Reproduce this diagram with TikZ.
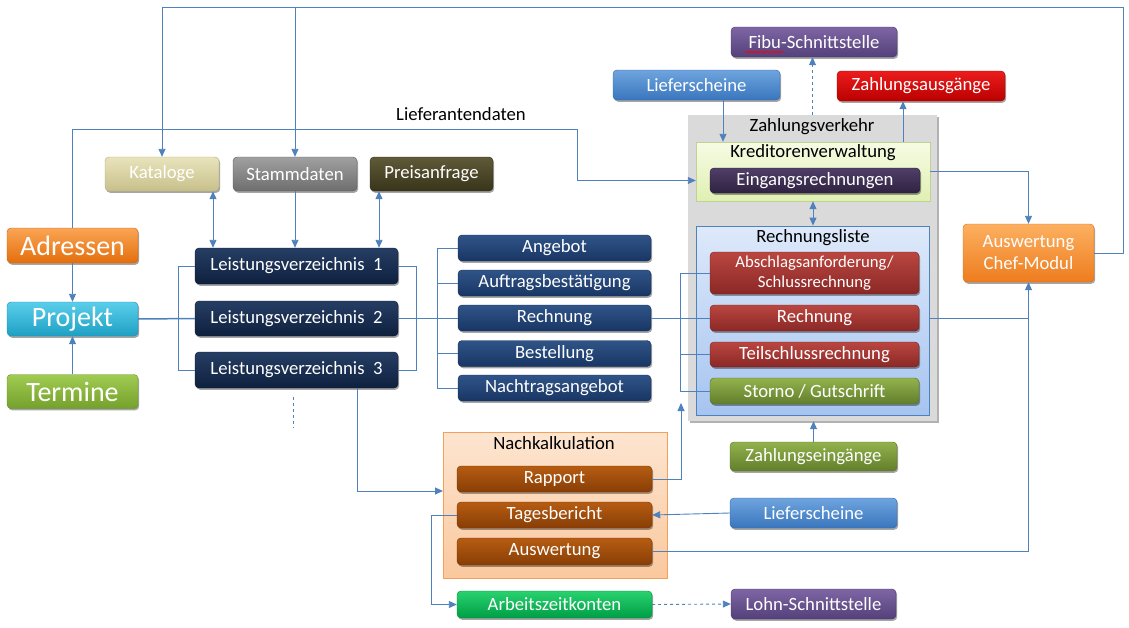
\documentclass[tikz,border=0pt]{standalone}
\usepackage{fontspec}
\setmainfont{Carlito}
\usetikzlibrary{arrows.meta,shadows,shadings,decorations.pathmorphing}
\definecolor{ln}{RGB}{79,129,189}
\newcommand\FsN{\fontsize{18.7pt}{21pt}\selectfont}
\newcommand\FsB{\fontsize{28pt}{30pt}\selectfont}
\newcommand\FsS{\fontsize{16.7pt}{20pt}\selectfont}
\tikzset{
  box/.style={rounded corners=4pt, inner sep=0pt, text=white, font=\FsN, line width=0.4pt,
    drop shadow={shadow xshift=1.2pt,shadow yshift=-1.8pt,opacity=.35,fill=black}},
  cKat/.style={top color={rgb,255:red,232;green,227;blue,188}, bottom color={rgb,255:red,200;green,192;blue,138}, draw={rgb,255:red,178;green,170;blue,115}},
  cStm/.style={top color={rgb,255:red,160;green,160;blue,160}, bottom color={rgb,255:red,110;green,110;blue,110}, draw={rgb,255:red,90;green,90;blue,90}},
  cPre/.style={top color={rgb,255:red,96;green,90;blue,56}, bottom color={rgb,255:red,56;green,52;blue,26}, draw={rgb,255:red,45;green,42;blue,20}},
  cAdr/.style={top color={rgb,255:red,250;green,165;blue,85}, bottom color={rgb,255:red,228;green,110;blue,12}, draw={rgb,255:red,200;green,95;blue,10}},
  cPrj/.style={top color={rgb,255:red,90;green,206;blue,234}, bottom color={rgb,255:red,30;green,160;blue,196}, draw={rgb,255:red,25;green,140;blue,170}},
  cTer/.style={top color={rgb,255:red,160;green,204;blue,82}, bottom color={rgb,255:red,116;green,160;blue,44}, draw={rgb,255:red,100;green,140;blue,38}},
  cLV/.style={top color={rgb,255:red,38;green,62;blue,100}, bottom color={rgb,255:red,14;green,32;blue,62}, draw={rgb,255:red,10;green,24;blue,48}},
  cBlu/.style={top color={rgb,255:red,48;green,84;blue,136}, bottom color={rgb,255:red,24;green,54;blue,100}, draw={rgb,255:red,18;green,42;blue,80}},
  cRed/.style={top color={rgb,255:red,186;green,70;blue,64}, bottom color={rgb,255:red,138;green,40;blue,38}, draw={rgb,255:red,115;green,32;blue,30}},
  cGrn/.style={top color={rgb,255:red,146;green,178;blue,76}, bottom color={rgb,255:red,98;green,126;blue,44}, draw={rgb,255:red,85;green,110;blue,38}},
  cLs/.style={top color={rgb,255:red,110;green,164;blue,222}, bottom color={rgb,255:red,58;green,118;blue,190}, draw={rgb,255:red,50;green,100;blue,165}},
  cZa/.style={top color={rgb,255:red,236;green,28;blue,28}, bottom color={rgb,255:red,186;green,0;blue,0}, draw={rgb,255:red,160;green,0;blue,0}},
  cPur/.style={top color={rgb,255:red,126;green,102;blue,164}, bottom color={rgb,255:red,84;green,64;blue,122}, draw={rgb,255:red,70;green,52;blue,105}},
  cEin/.style={top color={rgb,255:red,80;green,62;blue,104}, bottom color={rgb,255:red,46;green,34;blue,64}, draw={rgb,255:red,36;green,26;blue,52}},
  cChef/.style={top color={rgb,255:red,252;green,176;blue,96}, bottom color={rgb,255:red,238;green,124;blue,30}, draw={rgb,255:red,215;green,110;blue,25}},
  cBrn/.style={top color={rgb,255:red,182;green,92;blue,18}, bottom color={rgb,255:red,136;green,62;blue,6}, draw={rgb,255:red,115;green,52;blue,5}},
  cAzk/.style={top color={rgb,255:red,40;green,210;blue,110}, bottom color={rgb,255:red,0;green,158;blue,70}, draw={rgb,255:red,0;green,135;blue,60}},
  zvbox/.style={inner sep=0pt, fill={rgb,255:red,218;green,218;blue,218},
    drop shadow={shadow xshift=1.5pt,shadow yshift=-2pt,opacity=.3,fill=black}},
  kvbox/.style={inner sep=0pt, top color={rgb,255:red,246;green,251;blue,228}, bottom color={rgb,255:red,224;green,240;blue,178}, draw={rgb,255:red,190;green,210;blue,150}},
  rlbox/.style={inner sep=0pt, top color={rgb,255:red,222;green,233;blue,250}, bottom color={rgb,255:red,166;green,196;blue,240}, draw=ln, line width=0.8pt},
  nkbox/.style={inner sep=0pt, top color={rgb,255:red,253;green,229;blue,208}, bottom color={rgb,255:red,250;green,200;blue,158}, draw={rgb,255:red,244;green,160;blue,90}},
  lbl/.style={inner sep=0pt, text=black, font=\FsN},
  conn/.style={draw=ln, line width=0.9pt},
  tip/.style={-{Triangle[length=8pt,width=7pt]}},
  tips/.style={{Triangle[length=8pt,width=7pt]}-{Triangle[length=8pt,width=7pt]}},
}
\begin{document}
\begin{tikzpicture}[x=1pt,y=-1pt]
\useasboundingbox (0,0) rectangle (1129,627);

% containers
\node[zvbox,minimum width=249,minimum height=306] (zv) at (812.5,268) {};
\node[kvbox,minimum width=234,minimum height=59] (kv) at (813,171.5) {};
\node[rlbox,minimum width=233,minimum height=189] (rl) at (812.5,320.5) {};
\node[nkbox,minimum width=224,minimum height=146] (nk) at (555,505) {};
\node[lbl] (zvl) at (812,127) {Zahlungsverkehr};
\node[lbl] (kvl) at (813,153) {Kreditorenverwaltung};
\node[lbl] (rll) at (813,238) {Rechnungsliste};
\node[lbl] (nkl) at (554,443) {Nachkalkulation};
\node[lbl] (lfl) at (461,114) {Lieferantendaten};

% top row
\node[box,cKat,minimum width=114,minimum height=34] (kat) at (162,174) {Kataloge};
\node[box,cStm,minimum width=124,minimum height=34] (stm) at (295,174) {Stammdaten};
\node[box,cPre,minimum width=123,minimum height=34] (pre) at (431.5,174) {Preisanfrage};

% left column
\node[box,cAdr,font=\FsB,minimum width=131,minimum height=35] (adr) at (72.5,245.5) {Adressen};
\node[box,cPrj,font=\FsB,minimum width=131,minimum height=34] (prj) at (72.5,319) {Projekt};
\node[box,cTer,font=\FsB,minimum width=131,minimum height=34] (ter) at (72.5,391.5) {Termine};

% Leistungsverzeichnisse
\node[box,cLV,minimum width=203,minimum height=36] (lv1) at (296.5,266) {Leistungsverzeichnis~~1};
\node[box,cLV,minimum width=203,minimum height=35] (lv2) at (296.5,318.5) {Leistungsverzeichnis~~2};
\node[box,cLV,minimum width=203,minimum height=36] (lv3) at (296.5,370) {Leistungsverzeichnis~~3};

% documents
\node[box,cBlu,minimum width=193,minimum height=26] (ang) at (554.5,248) {Angebot};
\node[box,cBlu,minimum width=193,minimum height=26] (auf) at (554.5,283) {Auftragsbestätigung};
\node[box,cBlu,minimum width=193,minimum height=26] (rech) at (554.5,318) {Rechnung};
\node[box,cBlu,minimum width=193,minimum height=26] (best) at (554.5,353.5) {Bestellung};
\node[box,cBlu,minimum width=193,minimum height=26] (nach) at (554.5,388) {Nachtragsangebot};

% Zahlungsverkehr contents
\node[box,cEin,minimum width=210,minimum height=25] (ein) at (815,180.5) {Eingangsrechnungen};
\node[box,cRed,font=\FsS,align=center,minimum width=209,minimum height=42] (abs) at (814.5,273) {Abschlagsanforderung/\\Schlussrechnung};
\node[box,cRed,minimum width=209,minimum height=26] (rr) at (814.5,318) {Rechnung};
\node[box,cRed,minimum width=209,minimum height=25] (teil) at (814.5,354.5) {Teilschlussrechnung};
\node[box,cGrn,minimum width=209,minimum height=26] (sto) at (814.5,391) {Storno / Gutschrift};

% top right
\node[box,cPur,minimum width=166,minimum height=30] (fibu) at (814,42) {Fibu-Schnittstelle};
\node[box,cLs,minimum width=167,minimum height=30] (lsT) at (696.5,85) {Lieferscheine};
\node[box,cZa,minimum width=168,minimum height=30] (za) at (921,86) {Zahlungsausgänge};
\node[box,cChef,align=center,font=\fontsize{18.7pt}{22pt}\selectfont,minimum width=131,minimum height=58] (chef) at (1028.5,253) {Auswertung\\Chef-Modul};

% bottom right
\node[box,cGrn,minimum width=167,minimum height=29] (ze) at (813.5,456.5) {Zahlungseingänge};
\node[box,cLs,minimum width=167,minimum height=30] (lsB) at (813.5,513) {Lieferscheine};
\node[box,cPur,minimum width=165,minimum height=30] (lohn) at (813.5,604) {Lohn-Schnittstelle};

% Nachkalkulation contents
\node[box,cBrn,minimum width=195,minimum height=26] (rap) at (554.5,479) {Rapport};
\node[box,cBrn,minimum width=195,minimum height=26] (tag) at (554.5,515) {Tagesbericht};
\node[box,cBrn,minimum width=195,minimum height=27] (ausw) at (554.5,551.5) {Auswertung};
\node[box,cAzk,minimum width=195,minimum height=27] (azk) at (554.5,604.5) {Arbeitszeitkonten};

% spell-check underline
\draw[red, line width=0.7pt, decorate, decoration={snake, amplitude=0.8pt, segment length=3pt}] (745,52) -- (783,52);

% helper coordinates
\coordinate (topR) at (1123,7);
\coordinate (lfd) at (577,129);
\coordinate (kx) at (213,0);
\coordinate (px) at (379,0);
\coordinate (lbx) at (178,0);
\coordinate (rbx) at (416,0);
\coordinate (dbx) at (437,0);
\coordinate (redx) at (680,0);
\coordinate (rapUp) at (681,403);
\coordinate (lsx) at (723,0);
\coordinate (zax) at (903,0);
\coordinate (lv3x) at (357,0);
\coordinate (nkin) at (443,491);
\coordinate (dd1) at (293,397);
\coordinate (dd2) at (293,428);
\coordinate (chx) at (1029,0);

% connectors
\draw[conn,tip] (chef.east) -| (topR) -| (kat.north);
\draw[conn,tip] (stm.north |- topR) -- (stm.north);
\draw[conn,tip] (adr.north) |- (lfd) |- (kv.west |- ein.center);
\draw[conn,tip] (adr.south) -- (prj.north);
\draw[conn,tip] (ter.north) -- (prj.south);
\draw[conn,line width=1.5pt] (prj.east) -- (lv2.west);
\draw[conn] (lv1.west) -| (lbx |- lv3.west) -- (lv3.west);
\draw[conn] (lv1.east) -| (rbx |- lv3.east) -- (lv3.east);
\draw[conn] (lv2.east) -- (lv2.east -| rech.west);
\draw[conn] (ang.west) -| (dbx |- nach.west) -- (nach.west);
\draw[conn] (auf.west) -- (auf.west -| dbx);
\draw[conn] (best.west) -- (best.west -| dbx);
\draw[conn,tips] (kat.south -| kx) -- (lv1.north -| kx);
\draw[conn,tip] (stm.south) -- (stm.south |- lv1.north);
\draw[conn,tips] (pre.south -| px) -- (lv1.north -| px);
\draw[conn,dashed] (dd1) -- (dd2);
\draw[conn,tip] (lv3.south -| lv3x) |- (nkin);
\draw[conn] (rech.east) -- (rr.west);
\draw[conn] (abs.west) -| (redx |- sto.west) -- (sto.west);
\draw[conn] (teil.west) -- (teil.west -| redx);
\draw[conn,tip] (rap.east) -| (rapUp);
\draw[conn,tip] (lsB.west) -- (tag.east);
\draw[conn,tip] (tag.west) -- ++(-25,0) |- (azk.west);
\draw[conn,dashed,tip] (azk.east) -- (lohn.west);
\draw[conn,tip] (ze.north) -- (ze.north |- zv.south);
\draw[conn,tip] (ausw.east) -| (chef.south);
\draw[conn] (rl.east |- rr.east) -- (chx |- rr.east);
\draw[conn,tip] (kv.east) -| (chef.north);
\draw[conn,tips] (kv.south) -- (kv.south |- rl.north);
\draw[conn,tip] (lsT.south -| lsx) -- (kv.north -| lsx);
\draw[conn,tip] (kv.north -| zax) -- (za.south -| zax);
\draw[conn,dashed,tip] (zv.north) -- (zv.north |- fibu.south);
\end{tikzpicture}
\end{document}
